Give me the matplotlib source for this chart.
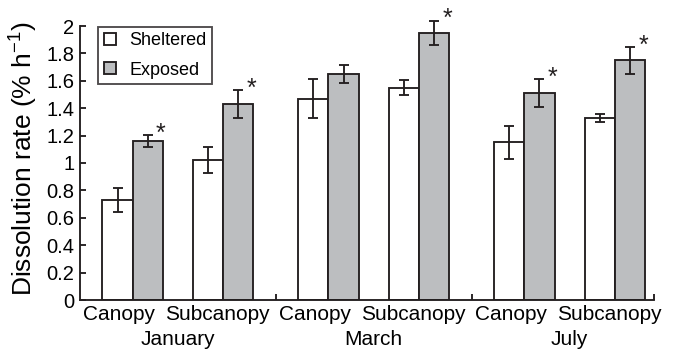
import numpy as np
import matplotlib
matplotlib.use("Agg")
import matplotlib.pyplot as plt

plt.rcParams['font.family'] = ['Liberation Sans', 'DejaVu Sans']
plt.rcParams['mathtext.fontset'] = 'custom'
plt.rcParams['mathtext.rm'] = 'Liberation Sans'

# values
months = ['January', 'March', 'July']
sites = ['Canopy', 'Subcanopy']
sheltered = [0.73, 1.02, 1.47, 1.55, 1.15, 1.33]
sheltered_err = [0.085, 0.095, 0.145, 0.053, 0.12, 0.03]
exposed = [1.16, 1.43, 1.65, 1.95, 1.51, 1.75]
exposed_err = [0.045, 0.10, 0.065, 0.088, 0.10, 0.097]
significant = [True, True, False, True, True, True]

edge = '#231f20'
grey = '#bcbec0'

# pair centres: 3 units between sites, 3.5 extra between months
centres = np.array([m * 6.5 + s * 3 for m in range(len(months)) for s in range(len(sites))])

fig = plt.figure(figsize=(6.78, 3.55), dpi=100)
ax = fig.add_axes([80 / 678, 55 / 355, 574 / 678, 287.7 / 355])

lw = 1.35
ekw = dict(ecolor=edge, elinewidth=lw, capsize=3.3, capthick=lw)
ax.bar(centres - 0.5, sheltered, width=1, color='white', edgecolor=edge,
       linewidth=lw, yerr=sheltered_err, error_kw=ekw, label='Sheltered', zorder=2)
ax.bar(centres + 0.5, exposed, width=1, color=grey, edgecolor=edge,
       linewidth=lw, yerr=exposed_err, error_kw=ekw, label='Exposed', zorder=2)

for c, v, e, sig in zip(centres, exposed, exposed_err, significant):
    if sig:
        ax.annotate('*', xy=(c + 0.5, v + e), xytext=(9.5, -4), textcoords='offset points',
                    ha='center', va='baseline', fontsize=18, color=edge)

xmax = 17.3
ax.set_xlim(-1.745, xmax)
ax.set_ylim(0, 2.1)
ax.spines['top'].set_visible(False)
ax.spines['right'].set_visible(False)
ax.spines['left'].set_bounds(0, 2)
for sp in ('left', 'bottom'):
    ax.spines[sp].set_linewidth(lw)
    ax.spines[sp].set_color(edge)

ax.set_yticks(np.arange(0, 2.01, 0.2))
ax.set_yticklabels(['0', '0.2', '0.4', '0.6', '0.8', '1', '1.2', '1.4', '1.6', '1.8', '2'])
ax.tick_params(axis='y', direction='in', length=4.3, width=lw, color=edge,
               labelsize=14.5, pad=4)

# separator ticks on the x axis, labels drawn as text
ax.set_xticks([4.75, 11.25, xmax])
ax.set_xticklabels([])
ax.tick_params(axis='x', direction='in', length=4.3, width=lw, color=edge)

for i, c in enumerate(centres):
    shift = -9.5 if i % 2 == 0 else -4
    ax.annotate(sites[i % 2], xy=(c, 0), xycoords=('data', 'axes fraction'),
                xytext=(shift, -3.5), textcoords='offset points',
                ha='center', va='top', fontsize=15)
for m, name in enumerate(months):
    ax.annotate(name, xy=(m * 6.5 + 1.5, 0), xycoords=('data', 'axes fraction'),
                xytext=(0, -21.5), textcoords='offset points',
                ha='center', va='top', fontsize=15)

ax.set_ylabel('Dissolution rate (% h$^{\\mathregular{-1}}$)', fontsize=19)
ax.yaxis.set_label_coords(-0.071, 0.49)

leg = ax.legend(loc='upper left', bbox_to_anchor=(0.032, 0.95), borderaxespad=0,
                fontsize=13, frameon=True, fancybox=False, edgecolor=edge,
                handlelength=0.65, handleheight=0.65, handletextpad=0.75,
                borderpad=0.3, labelspacing=0.7)
leg.get_frame().set_linewidth(lw)

plt.savefig('out.png', dpi=100)
